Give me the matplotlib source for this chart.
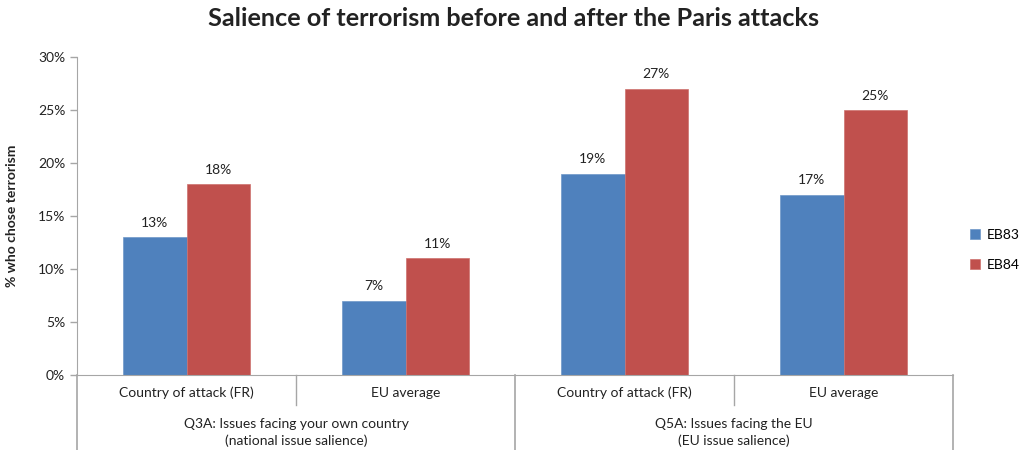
import matplotlib
matplotlib.use("Agg")
import matplotlib.pyplot as plt
import matplotlib.transforms as mtransforms
import numpy as np

plt.rcParams["font.family"] = ["Lato", "DejaVu Sans"]

categories = ["Country of attack (FR)", "EU average", "Country of attack (FR)", "EU average"]
groups = ["Q3A: Issues facing your own country\n(national issue salience)",
          "Q5A: Issues facing the EU\n(EU issue salience)"]
eb83 = [13, 7, 19, 17]
eb84 = [18, 11, 27, 25]
series_names = ["EB83", "EB84"]
colors = ["#4F81BD", "#C0504D"]
grid_col = "#A6A6A6"

fig = plt.figure(figsize=(10.27, 4.5), dpi=100)
ax = fig.add_axes([0.075, 0.1667, 0.853, 0.7066])

x = np.arange(len(categories))
w = 0.29
b1 = ax.bar(x - w / 2, eb83, w, color=colors[0], label=series_names[0], edgecolor="#6E97C8", linewidth=0.5)
b2 = ax.bar(x + w / 2, eb84, w, color=colors[1], label=series_names[1], edgecolor="#CD716E", linewidth=0.5)
for bars in (b1, b2):
    ax.bar_label(bars, labels=[f"{v}%" for v in bars.datavalues], padding=6, fontsize=10, color="#222222")

ax.set_xlim(-0.5, len(categories) - 0.5)
ax.set_ylim(0, 30)
ax.set_yticks(range(0, 31, 5))
ax.set_yticklabels([f"{v}%" for v in range(0, 31, 5)], fontsize=10, color="#222222")
ax.set_xticks([])
ax.tick_params(axis="y", length=5, color=grid_col, width=1)
for s in ("top", "right"):
    ax.spines[s].set_visible(False)
ax.spines["left"].set_color(grid_col)
ax.spines["bottom"].set_color(grid_col)
ax.set_ylabel("% who chose terrorism", fontsize=10, fontweight="bold", color="#222222", labelpad=14)

# multi-level category axis
trans = mtransforms.blended_transform_factory(ax.transData, ax.transAxes)
for xs in (0.5, 2.5):
    ax.plot([xs, xs], [0, -0.094], color=grid_col, lw=1, transform=trans, clip_on=False)
for xs in (-0.5, 1.5, 3.5):
    ax.plot([xs, xs], [0, -0.24], color=grid_col, lw=1.2, transform=trans, clip_on=False)
for xi, cat in zip(x, categories):
    ax.text(xi, -0.057, cat, transform=trans, ha="center", va="center", fontsize=10, color="#222222")
for gi, g in enumerate(groups):
    ax.text(2 * gi + 0.5, -0.181, g, transform=trans, ha="center", va="center", fontsize=10,
            color="#222222", linespacing=1.35)

ax.legend(loc="center left", bbox_to_anchor=(1.005, 0.393), frameon=False, fontsize=10,
          handlelength=0.7, handleheight=0.7, handletextpad=0.5, labelspacing=1.3)

fig.suptitle("Salience of terrorism before and after the Paris attacks", x=0.5, y=0.985,
             fontsize=18.2, fontweight="bold", color="#222222")

fig.savefig("out.png", dpi=100)
